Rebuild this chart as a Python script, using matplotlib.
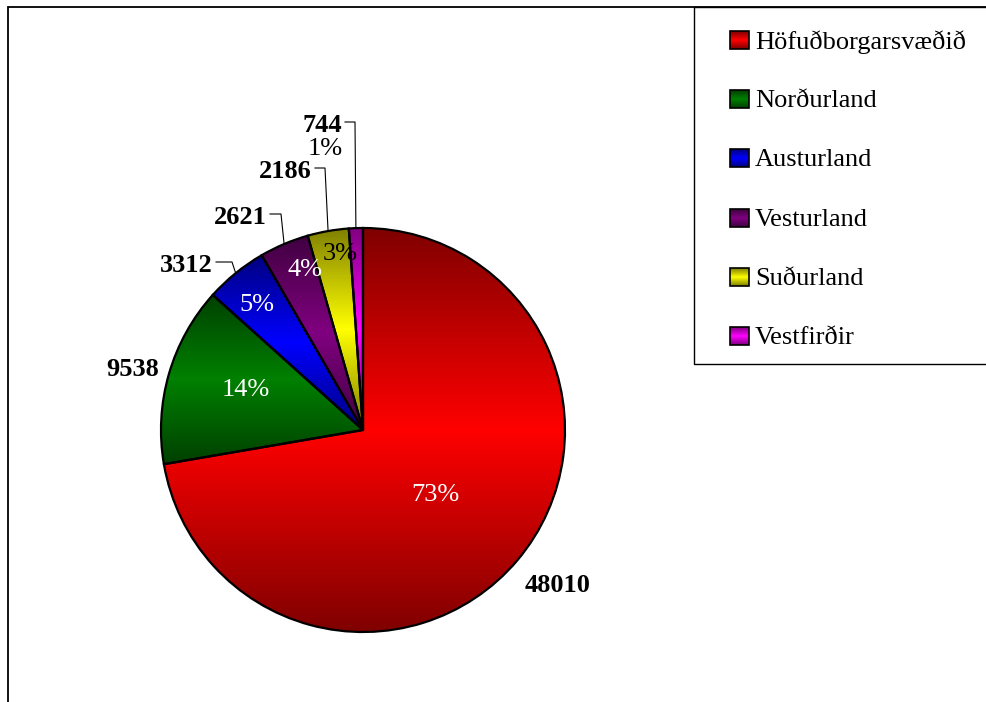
import numpy as np
import matplotlib.pyplot as plt
from matplotlib.colors import to_rgb
from matplotlib.patches import Rectangle

plt.rcParams['font.family'] = ['Liberation Serif', 'DejaVu Serif']

regions = ['Höfuðborgarsvæðið', 'Norðurland', 'Austurland', 'Vesturland', 'Suðurland', 'Vestfirðir']
counts = [48010, 9538, 3312, 2621, 2186, 744]
pct_labels = ['73%', '14%', '5%', '4%', '3%', '1%']
colors = ['#ff0000', '#008000', '#0000ff', '#800080', '#ffff00', '#ff00ff']

W, H = 986, 702
FS = 19
fig = plt.figure(figsize=(9.86, 7.02), dpi=100)
ax = fig.add_axes([0, 0, 1, 1])


def P(x, y):
    # pixel (y down) -> data (y up)
    return x, H - y


def shade(rgb, n=256):
    s = np.linspace(0, 1, n)
    f = 0.5 + 0.5 * (1 - np.abs(2 * s - 1))
    return f[:, None, None] * np.array(rgb)[None, None, :]


cx, cy = P(363, 430)
R = 202
wedges, _ = ax.pie(counts, colors=colors, startangle=90, counterclock=False,
                   center=(cx, cy), radius=R, frame=True,
                   wedgeprops=dict(edgecolor='black', linewidth=1.6))

# vertical gradient inside every slice
for w, c in zip(wedges, colors):
    t = np.radians(np.linspace(w.theta1, w.theta2, 300))
    xs = np.concatenate([[cx], cx + R * np.cos(t)])
    ys = np.concatenate([[cy], cy + R * np.sin(t)])
    im = ax.imshow(shade(to_rgb(c)), extent=(xs.min(), xs.max(), ys.min(), ys.max()),
                   origin='lower', aspect='auto', interpolation='bilinear', zorder=1)
    im.set_clip_path(w)
    w.set_facecolor('none')
    w.set_zorder(2)

# percent labels
pct_pos = [(435, 495), (246, 390), (257, 305), (305, 270), (340, 254), (325, 149)]
pct_col = ['white', 'white', 'white', 'white', 'black', 'black']
for lab, (x, y), c in zip(pct_labels, pct_pos, pct_col):
    ax.text(*P(x, y), lab, color=c, fontsize=FS, ha='center', va='center', zorder=4)

# value labels with leader lines
val_pos = [(558, 585), (133, 369), (213, 265), (267, 217), (312, 171), (342, 125)]
val_ha = ['center', 'center', 'right', 'right', 'right', 'right']
elbow_x = [None, None, 232, 281, 325, 355]
for i, (w, v) in enumerate(zip(wedges, counts)):
    x, y = val_pos[i]
    ax.text(*P(x, y), str(v), fontsize=FS, fontweight='bold', ha=val_ha[i],
            va='center', zorder=4)
    if elbow_x[i] is not None:
        ly = H - (y - 3)
        tm = np.radians((w.theta1 + w.theta2) / 2)
        ex, ey = cx + R * np.cos(tm), cy + R * np.sin(tm)
        ax.plot([x + 3, elbow_x[i], ex], [ly, ly, ey], color='black', lw=0.8, zorder=3)

# outer frame (runs off the right and bottom edges)
ax.add_patch(Rectangle(P(8, 712), 1100, 705, fill=False, edgecolor='black', lw=1.3, zorder=0))

# legend box
ax.add_patch(Rectangle(P(694, 364), 400, 357, facecolor='white', edgecolor='black', lw=1.0, zorder=3))
for i, (name, c) in enumerate(zip(regions, colors)):
    yc = 40 + i * 59.2
    x0, y0 = P(730, yc + 9)
    ax.imshow(shade(to_rgb(c), 32), extent=(x0, x0 + 19, y0, y0 + 18), origin='lower',
              aspect='auto', interpolation='bilinear', zorder=4)
    ax.add_patch(Rectangle((x0, y0), 19, 18, fill=False, edgecolor='black', lw=1.2, zorder=5))
    ax.text(*P(755, yc + 2), name, fontsize=FS, ha='left', va='center', zorder=5)

ax.set_xlim(0, W)
ax.set_ylim(0, H)
ax.set_aspect('auto')
ax.axis('off')
fig.savefig('out.png', dpi=100)
